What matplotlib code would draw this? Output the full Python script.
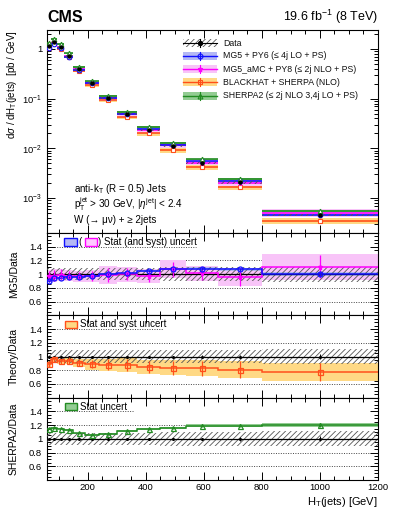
import numpy as np
import matplotlib
matplotlib.use('Agg')
import matplotlib.pyplot as plt
from matplotlib.patches import Rectangle
from matplotlib.lines import Line2D
from matplotlib.ticker import MultipleLocator, FixedLocator, FixedFormatter, LogLocator, NullFormatter

plt.rcParams['font.family'] = ['Liberation Sans', 'DejaVu Sans']
plt.rcParams['mathtext.fontset'] = 'custom'
plt.rcParams['mathtext.rm'] = 'Liberation Sans'
plt.rcParams['mathtext.it'] = 'Liberation Sans:italic'
plt.rcParams['mathtext.bf'] = 'Liberation Sans:bold'
plt.rcParams['mathtext.sf'] = 'Liberation Sans'
plt.rcParams['hatch.linewidth'] = 0.6

# ---------------- data ----------------
edges = [60, 75, 95, 120, 150, 190, 240, 300, 370, 450, 540, 650, 800, 1200]
data_xsec = [1.15, 1.36, 1.08, 0.72, 0.40, 0.21, 0.105, 0.049, 0.0237, 0.011, 0.0051, 0.00207, 0.00046]
data_tot = [0.09, 0.09, 0.09, 0.09, 0.09, 0.09, 0.09, 0.09, 0.09, 0.10, 0.10, 0.10, 0.11]
data_stat = [0.003, 0.003, 0.003, 0.003, 0.003, 0.004, 0.005, 0.007, 0.01, 0.013, 0.018, 0.025, 0.035]

mg5_ratio = [0.90, 0.94, 0.95, 0.96, 0.96, 0.97, 1.00, 1.01, 1.05, 1.07, 1.08, 1.07, 1.00]
mg5_band = [0.01, 0.01, 0.01, 0.01, 0.01, 0.01, 0.012, 0.012, 0.015, 0.015, 0.018, 0.02, 0.03]

amc_ratio = [0.97, 0.98, 0.99, 0.98, 0.97, 0.97, 0.99, 1.00, 0.97, 1.07, 1.01, 0.96, 1.11]
amc_err = [0.08, 0.08, 0.08, 0.07, 0.06, 0.07, 0.10, 0.09, 0.08, 0.11, 0.09, 0.13, 0.17]
amc_band = [0.09, 0.09, 0.09, 0.08, 0.08, 0.09, 0.13, 0.11, 0.10, 0.13, 0.11, 0.13, 0.19]

bh_ratio = [0.89, 0.96, 0.93, 0.94, 0.91, 0.89, 0.88, 0.88, 0.845, 0.835, 0.83, 0.81, 0.775]
bh_err = [0.04, 0.04, 0.04, 0.05, 0.05, 0.06, 0.08, 0.09, 0.09, 0.10, 0.11, 0.12, 0.13]
bh_band = [0.04, 0.04, 0.04, 0.05, 0.06, 0.08, 0.09, 0.10, 0.10, 0.11, 0.12, 0.12, 0.13]

sh_ratio = [1.15, 1.16, 1.15, 1.13, 1.08, 1.06, 1.07, 1.11, 1.15, 1.16, 1.19, 1.19, 1.20]
sh_band = [0.012, 0.012, 0.012, 0.012, 0.012, 0.012, 0.012, 0.012, 0.015, 0.015, 0.02, 0.02, 0.03]

ratio_ticks = [0.4, 0.6, 0.8, 1.0, 1.2, 1.4, 1.6]
ratio_ticklabels = ['', '0.6', '0.8', '1', '1.2', '1.4', '']
x_ticks = [200, 400, 600, 800, 1000, 1200]

# ---------------- styles ----------------
C_BLUE, B_BLUE = '#1010ff', '#b4b8f4'
C_MAG, B_MAG = '#ff00ff', '#f8c4f8'
C_OR, B_OR = '#ff4f1a', '#ffd985'
C_GR, B_GR = '#228b22', '#93cc93'
HATCH_C = '#555555'

E = np.array(edges, dtype=float)
lo, hi = E[:-1], E[1:]
cen = 0.5 * (lo + hi)
wid = hi - lo
D = np.array(data_xsec)

W, H = 399, 516
fig = plt.figure(figsize=(W / 100, H / 100), dpi=100)
left = 47 / W
width = (378 - 47) / W

def fy(top_px, bot_px):
    return [left, 1 - bot_px / H, width, (bot_px - top_px) / H]

ax0 = fig.add_axes(fy(30, 233))
rp = (480 - 233) / 3.0
ax1 = fig.add_axes(fy(233, 233 + rp))
ax2 = fig.add_axes(fy(233 + rp, 233 + 2 * rp))
ax3 = fig.add_axes(fy(233 + 2 * rp, 480))

TL = 6.8
for ax in (ax0, ax1, ax2, ax3):
    ax.set_xlim(60, 1200)
    ax.xaxis.set_major_locator(FixedLocator(x_ticks))
    ax.xaxis.set_minor_locator(MultipleLocator(50))
    ax.tick_params(which='both', direction='in', top=True, right=True, labelsize=TL, width=0.7)
    ax.tick_params(which='major', length=6)
    ax.tick_params(which='minor', length=3)
    for s in ax.spines.values():
        s.set_linewidth(0.8)

# ---------------- top panel ----------------
ax0.set_yscale('log')
ax0.set_ylim(2e-4, 2.4)
ax0.yaxis.set_major_locator(FixedLocator([1e-3, 1e-2, 1e-1, 1]))
ax0.yaxis.set_major_formatter(FixedFormatter(['$10^{-3}$', '$10^{-2}$', '$10^{-1}$', '1']))
ax0.yaxis.set_minor_locator(LogLocator(base=10, subs=np.arange(2, 10), numticks=20))
ax0.yaxis.set_minor_formatter(NullFormatter())
ax0.tick_params(axis='x', labelbottom=False)

series = [
    (bh_ratio, bh_band, bh_err, C_OR, B_OR, 's', 'none'),
    (amc_ratio, amc_band, amc_err, C_MAG, B_MAG, '*', C_MAG),
    (mg5_ratio, mg5_band, mg5_band, C_BLUE, B_BLUE, 'o', 'none'),
    (sh_ratio, sh_band, sh_band, C_GR, B_GR, '^', 'none'),
]
for r, b, e, c, bc, m, mfc in series:
    r = np.array(r); b = np.array(b)
    y = D * r
    bb = np.maximum(b, 0.035)
    ax0.bar(cen, 2 * y * bb, bottom=y * (1 - bb), width=wid, color=bc, lw=0, zorder=2)
    ax0.hlines(y, lo, hi, color=c, lw=1.2, zorder=3)
    ax0.plot(cen, y, ls='none', marker=m, ms=3.3, mfc=mfc if mfc != 'none' else 'white',
             mec=c, mew=0.8, zorder=4)

dt = np.array(data_tot)
ax0.bar(cen, 2 * D * dt * 0.5, bottom=D * (1 - dt * 0.5), width=wid, fill=False, hatch='//////',
        edgecolor=HATCH_C, lw=0, zorder=5)
ax0.errorbar(cen, D, yerr=D * np.array(data_stat), fmt='o', ms=2.2, color='black', lw=0.8, zorder=6)

ax0.set_ylabel(r'd$\sigma$ / dH$_\mathrm{T}$(jets)  [pb / GeV]', fontsize=7.0, loc='top')
ax0.yaxis.set_label_coords(-0.085, 1.0)

ax0.text(0.082, 0.218, r'anti-k$_\mathrm{T}$ (R = 0.5) Jets', transform=ax0.transAxes, fontsize=7.1, va='center')
ax0.text(0.082, 0.140, r'p$_\mathrm{T}^\mathrm{jet}$ > 30 GeV, |$\eta^\mathrm{jet}$| < 2.4', transform=ax0.transAxes, fontsize=7.1, va='center')
ax0.text(0.082, 0.066, 'W (\u2192 \u03bc\u03bd) + \u2265 2jets', transform=ax0.transAxes, fontsize=7.1, va='center')

fig.text(left, 1 - 17 / H, 'CMS', fontsize=11.5, fontweight='bold', va='center', ha='left')
fig.text(378 / W, 1 - 17 / H, r'19.6 fb$^{-1}$ (8 TeV)', fontsize=9, va='center', ha='right')

# legend (manual)
leg_rows = [
    ('Data', None, None, 'o', 'black', 'black', True),
    ('MG5 + PY6 (\u2264 4j LO + PS)', C_BLUE, B_BLUE, 'o', C_BLUE, 'none', False),
    ('MG5_aMC + PY8 (\u2264 2j NLO + PS)', C_MAG, B_MAG, '*', C_MAG, C_MAG, False),
    ('BLACKHAT + SHERPA (NLO)', C_OR, B_OR, 's', C_OR, 'none', False),
    ('SHERPA2 (\u2264 2j NLO 3,4j LO + PS)', C_GR, B_GR, '^', C_GR, 'none', False),
]
ys = [43.3, 55.9, 69.0, 82.3, 95.7]
x0h, x1h, xt = (183 - 47) / 331, (217 - 47) / 331, (223 - 47) / 331
hh = 8 / 203
for (lab, c, bc, m, mc, mfc, isdata), ypx in zip(leg_rows, ys):
    yy = (233 - ypx) / 203
    if isdata:
        ax0.add_patch(Rectangle((x0h, yy - hh / 2), x1h - x0h, hh, transform=ax0.transAxes,
                                fill=False, hatch='//////', edgecolor=HATCH_C, lw=0, zorder=7))
        ax0.add_line(Line2D([x0h, x1h], [yy, yy], transform=ax0.transAxes, color='black', lw=0.8, zorder=8))
        ax0.add_line(Line2D([(x0h + x1h) / 2] * 2, [yy - hh / 2, yy + hh / 2], transform=ax0.transAxes,
                            color='black', lw=0.8, zorder=8))
        ax0.plot([(x0h + x1h) / 2], [yy], transform=ax0.transAxes, marker='o', ms=2.8, color='black', zorder=9)
    else:
        ax0.add_patch(Rectangle((x0h, yy - hh / 2), x1h - x0h, hh, transform=ax0.transAxes,
                                facecolor=bc, lw=0, zorder=7))
        ax0.add_line(Line2D([x0h, x1h], [yy, yy], transform=ax0.transAxes, color=c, lw=1.0, zorder=8))
        ax0.add_line(Line2D([(x0h + x1h) / 2] * 2, [yy - hh / 2, yy + hh / 2], transform=ax0.transAxes,
                            color=c, lw=0.8, zorder=8))
        ax0.plot([(x0h + x1h) / 2], [yy], transform=ax0.transAxes, marker=m, ms=3.5,
                 mfc=mfc if mfc != 'none' else 'none', mec=mc, mew=0.8, zorder=9)
    ax0.text(xt, yy, lab, transform=ax0.transAxes, fontsize=6.3, va='center', ha='left', color='#111111')

# ---------------- ratio panels ----------------
def ratio_base(ax, label, grid_end):
    ax.set_ylim(0.4, 1.6)
    ax.yaxis.set_major_locator(FixedLocator(ratio_ticks))
    ax.yaxis.set_major_formatter(FixedFormatter(ratio_ticklabels))
    ax.yaxis.set_minor_locator(MultipleLocator(0.05))
    for g in (0.6, 0.8, 1.2):
        ax.axhline(g, color='#444444', ls=(0, (1, 1.5)), lw=0.7, zorder=1)
    ax.axhline(1.4, xmin=0, xmax=grid_end, color='#444444', ls=(0, (1, 1.5)), lw=0.7, zorder=1)
    ax.stairs(1 + dt, E, baseline=1 - dt, fill=True, facecolor='none', hatch='//////',
              edgecolor=HATCH_C, lw=0, zorder=3)
    ax.axhline(1.0, color='black', lw=0.9, zorder=4)
    ax.errorbar(cen, np.ones_like(cen), yerr=np.array(data_stat), fmt='o', ms=1.2, color='black',
                lw=0.7, zorder=5)
    ax.set_ylabel(label, fontsize=7.5)
    ax.yaxis.set_label_coords(-0.085, 0.5)

def draw_ratio(ax, r, b, e, c, bc, m, mfc, z):
    r = np.array(r); b = np.array(b); e = np.array(e)
    ax.stairs(r + b, E, baseline=r - b, fill=True, color=bc, lw=0, zorder=z)
    ax.stairs(r, E, color=c, lw=1.1, zorder=z + 4, baseline=None)
    ax.errorbar(cen, r, yerr=e, fmt=m, ms=3.6, mfc=mfc, mec=c, mew=0.9, color=c, lw=0.9, zorder=z + 5)

# MG5 panel
ratio_base(ax1, 'MG5/Data', 0.45)
draw_ratio(ax1, amc_ratio, amc_band, amc_err, C_MAG, B_MAG, '*', C_MAG, 2)
draw_ratio(ax1, mg5_ratio, mg5_band, mg5_band, C_BLUE, B_BLUE, 'o', 'none', 2.5)
ax1.tick_params(axis='x', labelbottom=False)

def boxpx(ax, x0px, x1px, fc, ec):
    ax.add_patch(Rectangle(((x0px - 47) / 331, (1.47 - 0.4) / 1.2 - 0.045), (x1px - x0px) / 331, 0.09,
                           transform=ax.transAxes, facecolor=fc, edgecolor=ec, lw=1.0, zorder=10))

ly = (1.47 - 0.4) / 1.2
boxpx(ax1, 64, 77, B_BLUE, C_BLUE)
ax1.text((78.5 - 47) / 331, ly, '(', transform=ax1.transAxes, fontsize=7, va='center', zorder=11)
boxpx(ax1, 85, 97, '#ffc8ff', C_MAG)
ax1.text((98.5 - 47) / 331, ly, ') Stat (and syst) uncert', transform=ax1.transAxes, fontsize=7,
         va='center', zorder=11)

# Theory panel
ratio_base(ax2, 'Theory/Data', 0.35)
draw_ratio(ax2, bh_ratio, bh_band, bh_err, C_OR, B_OR, 's', 'none', 2)
ax2.tick_params(axis='x', labelbottom=False)
boxpx(ax2, 65, 77, B_OR, C_OR)
ax2.text((80 - 47) / 331, ly, 'Stat and syst uncert', transform=ax2.transAxes, fontsize=7, va='center', zorder=11)

# SHERPA panel
ratio_base(ax3, 'SHERPA2/Data', 0.26)
draw_ratio(ax3, sh_ratio, sh_band, sh_band, C_GR, B_GR, '^', 'none', 2)
boxpx(ax3, 65, 77, B_GR, C_GR)
ax3.text((80 - 47) / 331, ly, 'Stat uncert', transform=ax3.transAxes, fontsize=7, va='center', zorder=11)
ax3.set_xlabel(r'H$_\mathrm{T}$(jets) [GeV]', fontsize=8, loc='right', labelpad=2)
ax3.tick_params(axis='x', pad=2)

fig.savefig('out.png', dpi=100)
